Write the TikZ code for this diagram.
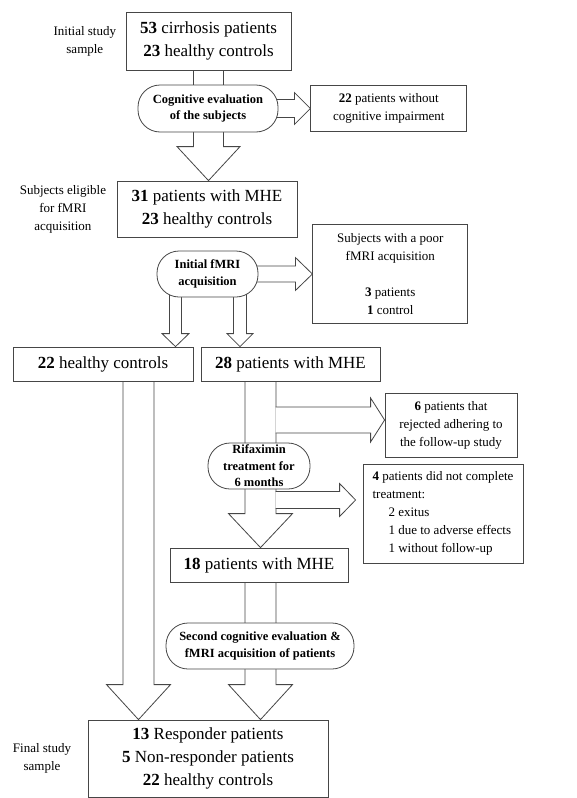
\documentclass[tikz,border=0pt]{standalone}
\usepackage{fontspec}
\setmainfont{Liberation Serif}
\usepackage{xcolor}
\definecolor{LineGray}{RGB}{70,70,70}
\usetikzlibrary{positioning, calc, backgrounds}
\tikzset{
  % Plain box
  pbox/.style={
    rectangle, draw=LineGray, line width=0.8pt,
    fill=white, align=center, inner sep=0pt,
    font=\fontsize{17}{23}\selectfont
  },
  pbox small/.style={pbox, font=\fontsize{13}{18}\selectfont},
  % Rounded step box
  sbox/.style={
    rectangle, rounded corners=22pt,
    draw=LineGray, line width=0.8pt,
    fill=white, align=center, inner sep=0pt,
    font=\bfseries\fontsize{12.5}{16.5}\selectfont
  },
  % Side label
  slabel/.style={align=center, font=\fontsize{13}{18}\selectfont},
  % Block arrows
  block/.style={draw=LineGray, line width=0.8pt, fill=white, line join=miter},
  down arr/.style n args={3}{to path={
    let \p1=(\tikztostart), \p2=(\tikztotarget) in
    (\x1-#1,\y1) -- (\x1-#1,\y2+#3) -- (\x1-#2,\y2+#3) -- (\x1,\y2)
    -- (\x1+#2,\y2+#3) -- (\x1+#1,\y2+#3) -- (\x1+#1,\y1)}},
  right arr/.style n args={3}{to path={
    let \p1=(\tikztostart), \p2=(\tikztotarget) in
    (\x1,\y1+#1) -- (\x2-#3,\y1+#1) -- (\x2-#3,\y1+#2) -- (\x2,\y1)
    -- (\x2-#3,\y1-#2) -- (\x2-#3,\y1-#1) -- (\x1,\y1-#1)}},
}

\begin{document}
\begin{tikzpicture}[x=1pt, y=-1pt]
  \useasboundingbox (0,0) rectangle (576,798);

  %% Main column
  \node[pbox, minimum width=165pt, minimum height=58pt] (init) at (208.5,41)
    {\textbf{53} cirrhosis patients\\\textbf{23} healthy controls};
  \node[sbox, minimum width=140pt, minimum height=47pt] (cog) at (208,108.5)
    {Cognitive evaluation\\of the subjects};
  \node[pbox, minimum width=180pt, minimum height=56pt] (elig) at (207,209)
    {\textbf{31} patients with MHE\\\textbf{23} healthy controls};
  \node[sbox, minimum width=101pt, minimum height=46pt] (fmri) at (207.5,274)
    {Initial fMRI\\acquisition};
  \node[pbox, minimum width=180pt, minimum height=34pt] (hc22) at (103,364)
    {\textbf{22} healthy controls};
  \node[pbox, minimum width=179pt, minimum height=34pt] (mhe28) at (290.5,364)
    {\textbf{28} patients with MHE};
  \node[sbox, minimum width=102pt, minimum height=46pt] (rif) at (259,466)
    {Rifaximin\\treatment for\\6 months};
  \node[pbox, minimum width=178pt, minimum height=34pt] (mhe18) at (259,565)
    {\textbf{18} patients with MHE};
  \node[sbox, minimum width=188pt, minimum height=46pt] (second) at (260,646)
    {Second cognitive evaluation \&\\fMRI acquisition of patients};
  \node[pbox, minimum width=240pt, minimum height=77pt] (final) at (208,758.5)
    {\textbf{13} Responder patients\\\textbf{5} Non-responder patients\\\textbf{22} healthy controls};

  %% Excluded subjects (right column)
  \node[pbox small, minimum width=156pt, minimum height=46pt, right=32pt of cog]
    (nocog) {\textbf{22} patients without\\cognitive impairment};
  \node[pbox small, minimum width=155pt, minimum height=99pt, right=54pt of fmri]
    (poor) {Subjects with a poor\\fMRI acquisition\\[18pt]\textbf{3} patients\\\textbf{1} control};
  \node[pbox small, minimum width=132pt, minimum height=64pt] (rej) at (451,425)
    {\textbf{6} patients that\\rejected adhering to\\the follow-up study};
  \node[pbox small, align=left, minimum width=160pt, minimum height=99pt]
    (quit) at (443,513.5)
    {\textbf{4} patients did not complete\\treatment:\\
     \hspace*{16pt}2 exitus\\\hspace*{16pt}1 due to adverse effects\\\hspace*{16pt}1 without follow-up};

  %% Stage labels (left)
  \node[slabel, left=6pt of init] (lblA) {Initial study\\sample};
  \node[slabel, left=7pt of elig] (lblB) {Subjects eligible\\for fMRI\\acquisition};
  \node[slabel, left=13pt of final] (lblC) {Final study\\sample};

  \coordinate (fork1) at (275.5,420);
  \coordinate (fork2) at (275.5,500);

  %% Block arrows
  \begin{scope}[on background layer]
    \draw[block, down arr={15pt}{31.5pt}{34pt}] (init.south) to (init.south |- elig.north);
    \draw[block, down arr={6pt}{13.5pt}{13pt}] ([xshift=-32pt]fmri.center) to ([xshift=-32pt]fmri.center |- hc22.north);
    \draw[block, down arr={6.5pt}{13pt}{13pt}] ([xshift=32.5pt]fmri.center) to ([xshift=32.5pt]fmri.center |- mhe28.north);
    \draw[block, down arr={15.5pt}{32pt}{35pt}] ([xshift=35.5pt]hc22.south) to ([xshift=35.5pt]hc22.south |- final.north);
    \draw[block, down arr={15.5pt}{32pt}{34pt}] ([xshift=-30pt]mhe28.south) to ([xshift=-30pt]mhe28.south |- mhe18.north);
    \draw[block, down arr={15.5pt}{32pt}{35pt}] ([xshift=1.5pt]mhe18.south) to ([xshift=1.5pt]mhe18.south |- final.north);

    \draw[block, right arr={9pt}{16pt}{16pt}] (cog.center) to (cog.center -| nocog.west);
    \draw[block, right arr={8pt}{16.5pt}{17pt}] (fmri.center) to (fmri.center -| poor.west);
    \draw[block, right arr={13pt}{22pt}{14pt}] (fork1) to (fork1 -| rej.west);
    \draw[block, right arr={8.5pt}{16.5pt}{16pt}] (fork2) to ($(fork2 -| quit.west)+(-7,0)$);
  \end{scope}

\end{tikzpicture}
\end{document}
